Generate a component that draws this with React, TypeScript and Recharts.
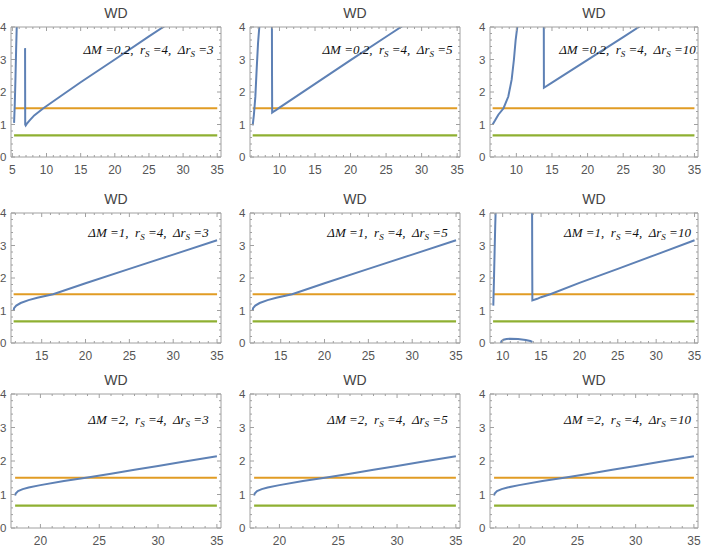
import React from 'react';
import { LineChart, Line, XAxis, YAxis } from 'recharts';

const BLUE = '#5E81B5';
const ORANGE = '#E19C24';
const GREEN = '#8FB032';
const FRAME = '#a0a0a0';
const LABEL = '#555555';

// horizontal reference levels
const orangeLevel = 1.5;
const greenLevel = 0.667;
const xEnd = 35;

const yTickLabels = [0, 1, 2, 3, 4];

// WD curves, one array per branch
const dm02dr3a = [
  { x: 5.25, y: 1.05 }, { x: 5.35, y: 1.6 }, { x: 5.45, y: 2.4 },
  { x: 5.55, y: 3.3 }, { x: 5.64, y: 4.0 }, { x: 5.7, y: 4.6 },
];
const dm02dr3b = [
  { x: 6.86, y: 3.35 }, { x: 6.87, y: 2.1 }, { x: 6.88, y: 1.0 }, { x: 6.95, y: 0.97 },
  { x: 7.1, y: 1.02 }, { x: 7.5, y: 1.12 }, { x: 8.2, y: 1.28 }, { x: 9.54, y: 1.5 },
  { x: 12, y: 1.86 }, { x: 15, y: 2.3 }, { x: 20, y: 3.0 }, { x: 25, y: 3.71 },
  { x: 27.1, y: 4.0 }, { x: 35, y: 5.12 },
];
const dm02dr5a = [
  { x: 6.23, y: 0.97 }, { x: 6.4, y: 1.3 }, { x: 6.6, y: 1.85 }, { x: 6.8, y: 2.75 },
  { x: 6.98, y: 3.5 }, { x: 7.16, y: 4.0 }, { x: 7.25, y: 4.6 },
];
const dm02dr5b = [
  { x: 8.93, y: 4.6 }, { x: 8.95, y: 2.5 }, { x: 8.97, y: 1.37 }, { x: 9.1, y: 1.39 },
  { x: 9.5, y: 1.44 }, { x: 10, y: 1.52 }, { x: 15, y: 2.25 }, { x: 20, y: 2.98 },
  { x: 25, y: 3.7 }, { x: 27.1, y: 4.0 }, { x: 35, y: 5.14 },
];
const dm02dr10a = [
  { x: 6.67, y: 1.0 }, { x: 7.0, y: 1.12 }, { x: 7.47, y: 1.3 }, { x: 8.2, y: 1.5 },
  { x: 8.87, y: 1.86 }, { x: 9.34, y: 2.38 }, { x: 9.66, y: 3.0 }, { x: 9.9, y: 3.6 },
  { x: 10.13, y: 4.0 }, { x: 10.25, y: 4.5 },
];
const dm02dr10b = [
  { x: 13.85, y: 4.6 }, { x: 13.86, y: 3.0 }, { x: 13.87, y: 2.13 }, { x: 15, y: 2.29 },
  { x: 20, y: 2.99 }, { x: 25, y: 3.69 }, { x: 27.2, y: 4.0 }, { x: 35, y: 5.1 },
];
const dm1 = [
  { x: 11.8, y: 1.0 }, { x: 11.85, y: 1.07 }, { x: 12.1, y: 1.15 }, { x: 12.6, y: 1.23 },
  { x: 13.5, y: 1.32 }, { x: 14.5, y: 1.39 }, { x: 16.3, y: 1.5 }, { x: 20, y: 1.84 },
  { x: 25, y: 2.28 }, { x: 30, y: 2.72 }, { x: 35, y: 3.16 },
];
const dm1dr10a = [
  { x: 8.78, y: 1.15 }, { x: 8.85, y: 1.8 }, { x: 8.95, y: 2.8 },
  { x: 9.03, y: 3.6 }, { x: 9.08, y: 4.0 }, { x: 9.12, y: 4.5 },
];
const dm1dr10b = [
  { x: 13.83, y: 4.6 }, { x: 13.85, y: 2.5 }, { x: 13.87, y: 1.31 }, { x: 14.5, y: 1.36 },
  { x: 15, y: 1.41 }, { x: 16.2, y: 1.5 }, { x: 20, y: 1.85 }, { x: 25, y: 2.28 },
  { x: 30, y: 2.72 }, { x: 35, y: 3.16 },
];
const dm1dr10c = [
  { x: 9.75, y: 0 }, { x: 9.85, y: 0.06 }, { x: 10.1, y: 0.1 }, { x: 10.5, y: 0.125 },
  { x: 11, y: 0.13 }, { x: 12, y: 0.12 }, { x: 13, y: 0.09 }, { x: 13.6, y: 0.06 },
  { x: 13.87, y: 0.03 },
];
const dm2 = [
  { x: 17.85, y: 0.97 }, { x: 17.9, y: 1.03 }, { x: 18.1, y: 1.1 }, { x: 18.5, y: 1.16 },
  { x: 19, y: 1.21 }, { x: 20, y: 1.28 }, { x: 22, y: 1.4 }, { x: 24, y: 1.51 },
  { x: 26, y: 1.62 }, { x: 28, y: 1.74 }, { x: 30, y: 1.85 }, { x: 32, y: 1.97 },
  { x: 35, y: 2.14 },
];

const panels = [
  { dm: '0.2', dr: '3', xDomain: [4.8, 35.55], start: 5.25, branches: [dm02dr3a, dm02dr3b] },
  { dm: '0.2', dr: '5', xDomain: [5.85, 35.4], start: 6.23, branches: [dm02dr5a, dm02dr5b] },
  { dm: '0.2', dr: '10', xDomain: [6.3, 35.5], start: 6.67, branches: [dm02dr10a, dm02dr10b] },
  { dm: '1', dr: '3', xDomain: [11.5, 35.45], start: 11.8, branches: [dm1] },
  { dm: '1', dr: '5', xDomain: [11.5, 35.45], start: 11.8, branches: [dm1] },
  { dm: '1', dr: '10', xDomain: [8.35, 35.45], start: 8.75, branches: [dm1dr10a, dm1dr10b, dm1dr10c] },
  { dm: '2', dr: '3', xDomain: [17.5, 35.35], start: 17.85, branches: [dm2] },
  { dm: '2', dr: '5', xDomain: [17.5, 35.35], start: 17.85, branches: [dm2] },
  { dm: '2', dr: '10', xDomain: [17.5, 35.35], start: 17.85, branches: [dm2] },
];

// page layout of the plot frames
const colLeft = [11, 250, 490];
const colRight = [221, 460, 698];
const rowTop = [27, 213, 394];
const rowBottom = [157, 343, 528];
const noteY = [50, 233, 420];

const yMinor = Array.from({ length: 21 }, (_, k) => k / 5);
const intTicks = (d: number[]) => {
  const out: number[] = [];
  for (let v = Math.ceil(d[0]); v <= Math.floor(d[1]); v++) out.push(v);
  return out;
};

const font = '"Liberation Sans", Arial, sans-serif';

const BottomTick = (p: any) => {
  const v = p.payload.value;
  const major = v % 5 === 0;
  return (
    <g>
      <line x1={p.x} x2={p.x} y1={p.y} y2={p.y - (major ? 4 : 2)} stroke={FRAME} />
      {major && (
        <text x={p.x} y={p.y + 17} textAnchor="middle" fill={LABEL} fontSize={12} fontFamily={font}>
          {v}
        </text>
      )}
    </g>
  );
};
const TopTick = (p: any) => {
  const major = p.payload.value % 5 === 0;
  return <line x1={p.x} x2={p.x} y1={p.y} y2={p.y + (major ? 4 : 2)} stroke={FRAME} />;
};
const LeftTick = (p: any) => {
  const v = p.payload.value;
  const major = Number.isInteger(v);
  return (
    <g>
      <line x1={p.x} x2={p.x + (major ? 4 : 2)} y1={p.y} y2={p.y} stroke={FRAME} />
      {major && yTickLabels.includes(v) && (
        <text x={p.x - 4.5} y={p.y + 4} textAnchor="end" fill={LABEL} fontSize={11.5} fontFamily={font}>
          {v}
        </text>
      )}
    </g>
  );
};
const RightTick = (p: any) => {
  const major = Number.isInteger(p.payload.value);
  return <line x1={p.x} x2={p.x - (major ? 4 : 2)} y1={p.y} y2={p.y} stroke={FRAME} />;
};

const subStyle: React.CSSProperties = {
  fontSize: 9,
  verticalAlign: 'baseline',
  position: 'relative',
  top: 3,
};

function Panel({ cfg, row, col }: { cfg: any; row: number; col: number }) {
  const L = colLeft[col];
  const R = colRight[col];
  const T = rowTop[row];
  const B = rowBottom[row];
  const w = R - L + 24;
  const h = B - T + 34;
  const xTicks = intTicks(cfg.xDomain);
  const levelOrange = [{ x: cfg.start, y: orangeLevel }, { x: xEnd, y: orangeLevel }];
  const levelGreen = [{ x: cfg.start, y: greenLevel }, { x: xEnd, y: greenLevel }];
  return (
    <>
      <div
        style={{
          position: 'absolute',
          left: (L + R) / 2 - 40,
          width: 80,
          top: T - 23,
          textAlign: 'center',
          fontFamily: font,
          fontSize: 14,
          lineHeight: '18px',
          color: '#444',
        }}
      >
        WD
      </div>
      <div style={{ position: 'absolute', left: L - 20, top: T - 10 }}>
        <LineChart width={w} height={h} margin={{ top: 9, right: 3, bottom: 0, left: 0 }}>
          <XAxis
            type="number"
            dataKey="x"
            domain={cfg.xDomain}
            allowDataOverflow
            ticks={xTicks}
            interval={0}
            height={24}
            tickLine={false}
            tickSize={0}
            tickMargin={0}
            tick={(p: any) => <BottomTick {...p} />}
            axisLine={{ stroke: FRAME }}
          />
          <XAxis
            xAxisId="top"
            orientation="top"
            type="number"
            dataKey="x"
            domain={cfg.xDomain}
            allowDataOverflow
            ticks={xTicks}
            interval={0}
            height={1}
            tickLine={false}
            tickSize={0}
            tickMargin={0}
            tick={(p: any) => <TopTick {...p} />}
            axisLine={{ stroke: FRAME }}
          />
          <YAxis
            type="number"
            domain={[0, 4]}
            allowDataOverflow
            ticks={yMinor}
            interval={0}
            width={20}
            tickLine={false}
            tickSize={0}
            tickMargin={0}
            tick={(p: any) => <LeftTick {...p} />}
            axisLine={{ stroke: FRAME }}
          />
          <YAxis
            yAxisId="right"
            orientation="right"
            type="number"
            domain={[0, 4]}
            allowDataOverflow
            ticks={yMinor}
            interval={0}
            width={1}
            tickLine={false}
            tickSize={0}
            tickMargin={0}
            tick={(p: any) => <RightTick {...p} />}
            axisLine={{ stroke: FRAME }}
          />
          <Line
            data={levelOrange}
            dataKey="y"
            stroke={ORANGE}
            strokeWidth={2}
            dot={false}
            isAnimationActive={false}
          />
          <Line
            data={levelGreen}
            dataKey="y"
            xAxisId="top"
            yAxisId="right"
            stroke={GREEN}
            strokeWidth={2.3}
            dot={false}
            isAnimationActive={false}
          />
          {cfg.branches.map((b: any, i: number) => (
            <Line
              key={i}
              data={b}
              dataKey="y"
              stroke={BLUE}
              strokeWidth={2}
              dot={false}
              isAnimationActive={false}
            />
          ))}
        </LineChart>
      </div>
      <div
        style={{
          position: 'absolute',
          left: L + 137.5 - 100,
          width: 200,
          top: noteY[row] - 9,
          textAlign: 'center',
          fontFamily: '"Liberation Serif", "Times New Roman", serif',
          fontStyle: 'italic',
          fontSize: 13,
          lineHeight: '18px',
          whiteSpace: 'pre',
          color: '#111',
        }}
      >
        {'ΔM =' + cfg.dm + ',  r'}
        <sub style={subStyle}>S</sub>
        {' =4,  Δr'}
        <sub style={subStyle}>S</sub>
        {' =' + cfg.dr}
      </div>
    </>
  );
}

export default function App() {
  return (
    <div
      style={{
        position: 'absolute',
        left: 0,
        top: 0,
        width: 706,
        height: 551,
        overflow: 'hidden',
        background: '#fff',
      }}
    >
      {panels.map((cfg, i) => (
        <Panel key={i} cfg={cfg} row={Math.floor(i / 3)} col={i % 3} />
      ))}
    </div>
  );
}
